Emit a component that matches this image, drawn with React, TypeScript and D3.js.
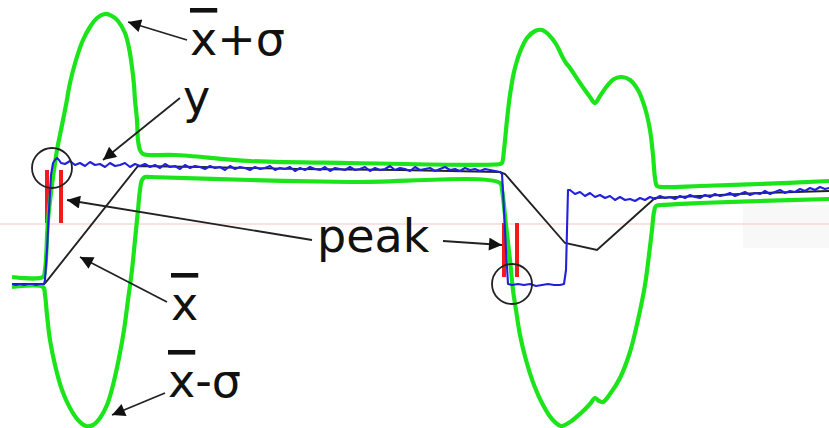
import * as d3 from "d3";

type Pt = [number, number];

const W = 829;
const H = 428;

// signal y (blue), time in samples, level in counts
const yLow1: Pt[] = [[12, 16], [16, 15], [20, 16], [24, 15], [28, 16], [32, 16], [36, 15], [40, 16], [44, 16]];
const yRise1: Pt[] = [[45, 20], [47, 50], [49, 90], [51, 125], [53, 137], [55, 140], [57, 142], [59, 140], [61, 137]];
const yHigh1Start = 65;
const yHigh1 = [
  136, 139, 135, 137, 134, 138, 135, 136, 133, 137,
  134, 135, 137, 133, 136, 134, 136, 133, 135, 132,
  136, 133, 134, 131, 135, 132, 134, 133, 131, 134,
  132, 133, 130, 134, 131, 133, 132, 130, 133, 131,
  132, 134, 130, 132, 131, 133, 129, 132, 130, 133,
  131, 130, 133, 129, 132, 131, 130, 133, 130, 131,
  133, 129, 132, 130, 131, 134, 130, 132, 131, 129,
  133, 130, 131, 132, 129, 131, 133, 130, 131, 129,
  132, 130, 131, 129, 131, 130, 129, 128,
];
const yDrop: Pt[] = [[502, 126], [504, 90], [506, 50], [508, 16]];
const yLow2: Pt[] = [[512, 15], [518, 16], [524, 15], [530, 16], [536, 14], [542, 15], [548, 16], [554, 15], [560, 15], [564, 16]];
const yRise2: Pt[] = [[566, 30], [567, 70], [568, 110]];
const yHigh2Start = 570;
const yHigh2 = [
  110, 106, 108, 104, 107, 103, 105, 102, 104, 100,
  103, 100, 101, 99, 102, 100, 103, 101, 104, 102,
  103, 101, 104, 102, 105, 103, 102, 105, 103, 106,
  104, 105, 107, 104, 106, 108, 105, 107, 106, 109,
  106, 108, 110, 107, 109, 108, 111, 109, 112, 110,
  113, 111,
];
const yEnd: Pt[] = [[829, 112]];
const sampleStep = 5;

// running mean x̄ (black)
const xMean: Pt[] = [
  [12, 16], [44, 16], [46, 18], [138, 134], [200, 133], [300, 131], [400, 130], [500, 128],
  [505, 126], [565, 57], [597, 50], [655, 102], [700, 104], [760, 107], [829, 109],
];

// x̄+σ (green, upper)
const upper: Pt[] = [
  [12, 23], [43, 23], [45, 30], [48, 80], [52, 115], [57, 150], [61, 170], [66, 195], [70, 217],
  [76, 240], [83, 260], [90, 273], [97, 282], [105, 286], [112, 284], [118, 279], [125, 267],
  [129, 252], [132, 233], [134, 215], [135, 200], [137, 180], [138, 160], [140, 150], [143, 146],
  [148, 145], [175, 145], [250, 139], [350, 137], [500, 136], [502, 137], [504, 150], [507, 180],
  [510, 205], [514, 228], [520, 248], [527, 262], [535, 269], [542, 270], [549, 265], [556, 256],
  [562, 244], [566, 237], [570, 232], [580, 217], [590, 203], [595, 197], [600, 204], [607, 214],
  [614, 221], [622, 223], [630, 220], [638, 210], [645, 192], [650, 170], [653, 145], [655, 122],
  [657, 114], [662, 113], [700, 114], [760, 116], [829, 119],
];

// x̄-σ (green, lower)
const lower: Pt[] = [
  [12, 13], [43, 13], [45, 5], [47, -15], [50, -40], [55, -65], [62, -90], [70, -108], [78, -120],
  [86, -126], [93, -125], [100, -118], [107, -105], [113, -85], [119, -58], [124, -30], [128, 0],
  [132, 30], [135, 60], [138, 90], [140, 110], [142, 120], [145, 123], [150, 123], [250, 120],
  [350, 118], [500, 117], [502, 110], [506, 75], [510, 40], [513, 10], [516, -10], [520, -35],
  [526, -60], [534, -85], [543, -105], [552, -119], [561, -126], [570, -122], [580, -114],
  [590, -104], [595, -98], [599, -101], [603, -102], [610, -94], [620, -78], [630, -52],
  [638, -20], [645, 15], [649, 45], [652, 70], [654, 88], [656, 94], [662, 95], [700, 97],
  [760, 99], [829, 101],
];

// peak markers: [t, from, to]
const peaks: [number, number, number][] = [
  [47, 130, 77], [61, 130, 77],
  [504, 77, 23], [517, 77, 23],
];
const threshold = 76;
const circles: Pt[] = [[52, 132], [512, 16]];

// annotations: barred "x" prefix, rest of label, text anchor [t, v], arrows [[from], [to]]
const labels: { bar: string; rest: string; at: Pt; arrows: [Pt, Pt][] }[] = [
  { bar: "x", rest: "+σ", at: [190, 245], arrows: [[[187, 260], [128, 278]]] },
  { bar: "", rest: "y", at: [183, 187], arrows: [[[180, 202], [103, 140]]] },
  { bar: "", rest: "peak", at: [317, 48], arrows: [[[312, 60], [67, 100]], [[443, 59], [502, 55]]] },
  { bar: "x", rest: "", at: [171, -20], arrows: [[[167, -2], [80, 43]]] },
  { bar: "x", rest: "-σ", at: [168, -97], arrows: [[[165, -93], [112, -115]]] },
];

export default function App() {
  const x = d3.scaleLinear().domain([0, 829]).range([0, W]);
  const y = d3.scaleLinear().domain([-128, 300]).range([H, 0]);

  const signal: Pt[] = [
    ...yLow1,
    ...yRise1,
    ...yHigh1.map((v, i) => [yHigh1Start + i * sampleStep, v] as Pt),
    ...yDrop,
    ...yLow2,
    ...yRise2,
    ...yHigh2.map((v, i) => [yHigh2Start + i * sampleStep, v] as Pt),
    ...yEnd,
  ];

  const line = d3.line<Pt>().x((d) => x(d[0])).y((d) => y(d[1]));
  const smooth = d3
    .line<Pt>()
    .x((d) => x(d[0]))
    .y((d) => y(d[1]))
    .curve(d3.curveCatmullRom.alpha(0.5));

  const green = "#1be41b";

  return (
    <div style={{ position: "fixed", left: 0, top: 0, background: "#fff" }}>
      <svg width={W} height={H} style={{ display: "block" }}>
        <defs>
          <marker
            id="head"
            viewBox="0 0 10 10"
            refX="10"
            refY="5"
            markerWidth="17"
            markerHeight="13"
            markerUnits="userSpaceOnUse"
            orient="auto"
          >
            <path d="M0,0 L10,5 L0,10 z" fill="#111" />
          </marker>
        </defs>
        <rect x={x(743)} y={y(95)} width={x(829) - x(743)} height={y(52) - y(95)} fill="#f8f8f8" />
        <line x1={x(0)} x2={x(829)} y1={y(threshold)} y2={y(threshold)} stroke="#f7c4c4" strokeWidth={1.2} />

        {peaks.map(([t, a, b], i) => (
          <line key={i} x1={x(t)} x2={x(t)} y1={y(a)} y2={y(b)} stroke="#f01c1c" strokeWidth={4} />
        ))}

        <path d={smooth(upper) ?? ""} fill="none" stroke={green} strokeWidth={4.2} strokeLinejoin="round" />
        <path d={smooth(lower) ?? ""} fill="none" stroke={green} strokeWidth={4.2} strokeLinejoin="round" />
        <path d={line(xMean) ?? ""} fill="none" stroke="#222" strokeWidth={1.9} />
        <path d={line(signal) ?? ""} fill="none" stroke="#2121dc" strokeWidth={2.1} strokeLinejoin="round" />

        {circles.map(([t, v], i) => (
          <circle key={i} cx={x(t)} cy={y(v)} r={20} fill="none" stroke="#222" strokeWidth={1.8} />
        ))}

        {labels.map((l, i) => (
          <g key={i}>
            {l.arrows.map(([from, to], j) => (
              <line
                key={j}
                x1={x(from[0])}
                y1={y(from[1])}
                x2={x(to[0])}
                y2={y(to[1])}
                stroke="#222"
                strokeWidth={1.8}
                markerEnd="url(#head)"
              />
            ))}
            <text
              x={x(l.at[0])}
              y={y(l.at[1])}
              fontFamily="DejaVu Sans, Verdana, sans-serif"
              fontSize={46}
              fill="#111"
            >
              {l.bar && (
                <tspan
                  style={{
                    textDecorationLine: "overline",
                    textDecorationThickness: "4px",
                  }}
                >
                  {l.bar}
                </tspan>
              )}
              {l.rest}
            </text>
          </g>
        ))}
      </svg>
    </div>
  );
}
